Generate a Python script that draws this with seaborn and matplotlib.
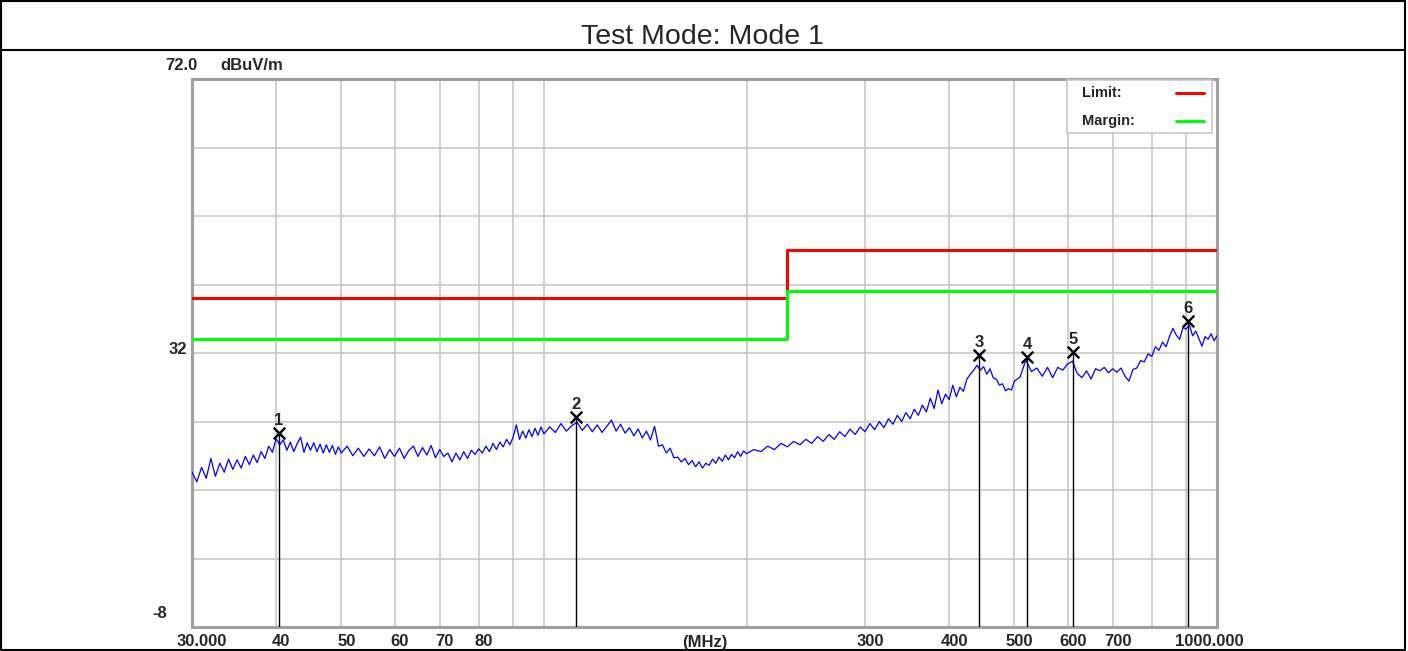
import numpy as np
import pandas as pd
import matplotlib
matplotlib.use('Agg')
import matplotlib.pyplot as plt
import seaborn as sns
from matplotlib.ticker import FixedLocator, NullFormatter
from matplotlib.transforms import ScaledTranslation, blended_transform_factory
from matplotlib.lines import Line2D
from matplotlib.patches import Rectangle

# %% data (MHz / dBuV/m)
FREQ_A = [30.0, 30.5, 31.0, 31.5, 32.0, 32.5, 33.0, 33.5, 34.0, 34.5, 35.0, 35.5, 36.0, 36.5,
          37.0, 37.5, 38.0, 38.5, 39.0, 39.5, 40.0, 40.5, 41.0, 41.5, 42.0, 42.5, 43.0, 43.5,
          44.0, 44.5, 45.0, 45.5, 46.0, 46.5, 47.0, 47.5, 48.0, 48.5, 49.0, 49.5, 50.0]
LEVEL_A = [14.6, 13.2, 15.3, 13.7, 16.6, 14.0, 15.9, 14.6, 16.5, 15.0, 16.4, 15.2, 16.9, 15.7,
           17.1, 16.0, 17.6, 16.6, 18.4, 17.5, 19.5, 18.6, 19.3, 17.8, 19.0, 17.6, 18.8, 19.7,
           17.5, 18.9, 17.8, 18.9, 17.6, 18.7, 17.4, 18.6, 17.5, 18.5, 17.2, 18.3, 17.4]

FREQ_B = [51, 52, 53, 54, 55, 56, 57, 58, 59, 60, 61, 62, 63, 64, 65, 66, 67, 68, 69, 70,
          71, 72, 73, 74, 75, 76, 77, 78, 79, 80, 81, 82, 83, 84, 85, 86, 87, 88, 89, 90,
          91, 92, 93, 94, 95, 96, 97, 98, 99, 100]
LEVEL_B = [18.4, 17.0, 18.1, 16.9, 18.0, 17.0, 18.3, 16.6, 17.9, 16.9, 18.1, 16.6, 17.8, 18.4,
           16.9, 18.2, 17.1, 18.5, 16.7, 17.9, 16.9, 17.4, 16.1, 17.4, 16.4, 17.6, 16.6, 17.8,
           17.2, 18.0, 17.4, 18.4, 17.6, 18.8, 17.9, 19.0, 18.3, 19.4, 18.6, 19.7, 21.5, 19.4,
           20.6, 19.6, 20.8, 19.8, 21.0, 20.0, 21.2, 20.2]

FREQ_C = [102, 104, 106, 108, 110, 112, 114, 116, 118, 120, 122, 124, 126, 128, 130, 132,
          134, 136, 138, 140, 142, 144, 146, 148, 150, 152, 154, 156, 158, 160, 162, 164,
          166, 168, 170, 172, 174, 176, 178, 180, 182, 184, 186, 188, 190, 192, 194, 196,
          198, 200]
LEVEL_C = [21.2, 20.4, 21.7, 20.6, 21.4, 21.9, 20.7, 21.6, 20.5, 21.5, 20.4, 21.3, 22.2, 20.6,
           21.6, 20.3, 21.1, 19.9, 20.9, 19.6, 20.6, 19.3, 21.3, 18.4, 18.6, 17.4, 18.1, 16.7,
           16.8, 16.1, 16.6, 15.7, 16.3, 15.4, 16.1, 15.2, 15.9, 15.6, 16.5, 15.9, 16.8, 16.2,
           17.1, 16.4, 17.2, 16.7, 17.6, 16.9, 17.7, 17.3]

FREQ_D = [205, 210, 215, 220, 225, 230, 235, 240, 245, 250, 255, 260, 265, 270, 275, 280,
          285, 290, 295, 300, 305, 310, 315, 320, 325, 330, 335, 340, 345, 350, 355, 360,
          365, 370, 375, 380, 385, 390, 395, 400, 405, 410, 415, 420, 425, 430, 435, 440,
          445, 450, 455, 460, 465, 470, 475, 480, 485, 490, 495, 500]
LEVEL_D = [17.9, 17.6, 18.4, 17.9, 18.8, 18.3, 19.1, 18.6, 19.4, 18.8, 19.8, 19.1, 20.1, 19.4,
           20.5, 19.8, 20.9, 20.1, 21.2, 20.5, 21.7, 20.8, 22.0, 21.1, 22.4, 21.6, 22.9, 22.0,
           23.3, 22.4, 23.8, 22.9, 24.4, 23.4, 25.4, 23.9, 26.6, 24.6, 26.0, 25.2, 27.3, 25.6,
           27.0, 26.4, 28.2, 28.9, 29.5, 30.2, 29.5, 30.0, 28.9, 29.7, 28.4, 28.2, 27.3, 27.5,
           26.5, 26.8, 26.6, 27.9]

FREQ_E = [510, 520, 530, 540, 550, 560, 570, 580, 590, 600, 610, 620, 630, 640, 650, 660,
          670, 680, 690, 700, 710, 720, 730, 740, 750, 760, 770, 780, 790, 800, 810, 820,
          830, 840, 850, 860, 870, 880, 890, 900, 910, 920, 930, 940, 950, 960, 970, 980,
          990, 1000]
LEVEL_E = [28.5, 31.0, 29.3, 29.8, 28.6, 29.9, 28.4, 29.9, 29.5, 30.4, 30.8, 29.0, 28.4, 29.4,
           28.2, 29.7, 29.4, 29.9, 29.1, 29.7, 29.2, 29.8, 28.6, 27.9, 29.6, 29.8, 30.9, 30.7,
           31.9, 31.5, 32.9, 32.4, 33.6, 32.9, 34.4, 35.6, 34.6, 34.0, 35.7, 35.5, 36.1, 34.5,
           35.2, 34.1, 33.0, 34.4, 34.0, 34.8, 33.8, 34.5]

LIMIT_FREQ = [30, 230, 230, 1000]
LIMIT_LEVEL = [40, 40, 47, 47]
MARGIN_LEVEL = [34, 34, 41, 41]

MARKER_ID = ['1', '2', '3', '4', '5', '6']
MARKER_FREQ = [40.4, 111.6, 443, 522, 611, 906]
MARKER_LEVEL = [20.3, 22.7, 31.7, 31.4, 32.1, 36.7]

X_GRID = [40, 50, 60, 70, 80, 90, 100, 200, 300, 400, 500, 600, 700, 800, 900]
Y_GRID = [2, 12, 22, 32, 42, 52, 62]
XTICK_VALUES = [30, 40, 50, 60, 70, 80, 300, 400, 500, 600, 700, 1000]
XTICK_LABELS = ['30.000', '40', '50', '60', '70', '80', '300', '400', '500', '600', '700', '1000.000']

TITLE = 'Test Mode: Mode 1'

# %% styling
sns.set_style('white')
plt.rcParams['font.family'] = ['Liberation Sans', 'DejaVu Sans']

W, H = 1408, 651
fig = plt.figure(figsize=(W / 100, H / 100), dpi=100)
ax = fig.add_axes([192 / W, 1 - 627 / H, (1217 - 192) / W, (627 - 79) / H])

trace = pd.DataFrame({'freq': FREQ_A + FREQ_B + FREQ_C + FREQ_D + FREQ_E,
                      'level': LEVEL_A + LEVEL_B + LEVEL_C + LEVEL_D + LEVEL_E})
limits = pd.DataFrame({'freq': LIMIT_FREQ, 'limit': LIMIT_LEVEL, 'margin': MARGIN_LEVEL})
markers = pd.DataFrame({'freq': MARKER_FREQ, 'level': MARKER_LEVEL, 'id': MARKER_ID})

sns.lineplot(data=trace, x='freq', y='level', color='#0000FF', lw=0.9,
             estimator=None, sort=False, ax=ax, zorder=3)
sns.lineplot(data=limits, x='freq', y='limit', color='#FF0000', lw=2.2,
             estimator=None, sort=False, ax=ax, zorder=4)
sns.lineplot(data=limits, x='freq', y='margin', color='#00FF00', lw=2.2,
             estimator=None, sort=False, ax=ax, zorder=4)

ax.vlines(markers['freq'], -8, markers['level'], colors='black', lw=1.0, zorder=5)
sns.scatterplot(data=markers, x='freq', y='level', marker='x', s=70, color='black',
                linewidth=1.7, ax=ax, zorder=6)
for _, m in markers.iterrows():
    ax.annotate(m['id'], (m['freq'], m['level']), xytext=(0, 9), textcoords='offset points',
                ha='center', va='center', fontsize=12, fontweight='bold', zorder=7)

ax.set_xscale('log')
ax.set_xlim(30, 1000)
ax.set_ylim(-8, 72)
ax.set_xlabel('')
ax.set_ylabel('')

ax.xaxis.set_major_locator(FixedLocator(X_GRID))
ax.xaxis.set_minor_locator(FixedLocator([]))
ax.xaxis.set_major_formatter(NullFormatter())
ax.xaxis.set_minor_formatter(NullFormatter())
ax.yaxis.set_major_locator(FixedLocator(Y_GRID))
ax.yaxis.set_major_formatter(NullFormatter())
ax.tick_params(which='both', length=0)
ax.grid(True, which='major', color='#C8C8C8', lw=1.2)
ax.set_axisbelow(True)
for s in ax.spines.values():
    s.set_color('#A0A0A0')
    s.set_linewidth(2.2)

# x labels (drawn as text so they can sit like the original)
bx = blended_transform_factory(ax.transData, ax.transAxes)
for i, (v, lab) in enumerate(zip(XTICK_VALUES, XTICK_LABELS)):
    dx = 10 if i == 0 else (-8 if i == len(XTICK_VALUES) - 1 else 5)
    ax.text(v, 0, lab, transform=bx + ScaledTranslation(dx / 100, -15 / 100, fig.dpi_scale_trans),
            ha='center', va='center', fontsize=12, fontweight='bold')
ax.text(0.5, 0, '(MHz)', transform=ax.transAxes + ScaledTranslation(0, -15 / 100, fig.dpi_scale_trans),
        ha='center', va='center', fontsize=12, fontweight='bold')

# y labels
by = blended_transform_factory(ax.transAxes, ax.transData)
ax.text(0, 72, '72.0', transform=by + ScaledTranslation(5 / 100, 14 / 100, fig.dpi_scale_trans),
        ha='right', va='center', fontsize=12, fontweight='bold')
ax.text(0, 72, 'dBuV/m', transform=by + ScaledTranslation(28 / 100, 14 / 100, fig.dpi_scale_trans),
        ha='left', va='center', fontsize=12, fontweight='bold')
ax.text(0, 32, '32', transform=by + ScaledTranslation(-5 / 100, 4 / 100, fig.dpi_scale_trans),
        ha='right', va='center', fontsize=12, fontweight='bold')
ax.text(0, -8, '-8', transform=by + ScaledTranslation(-25 / 100, 14 / 100, fig.dpi_scale_trans),
        ha='right', va='center', fontsize=12, fontweight='bold')

# legend box (label left, line right)
def apx(x, y):
    return ((x - 192) / 1025, (627 - y) / 548)

ax.add_patch(Rectangle(apx(1067, 133), 145 / 1025, 53 / 548, transform=ax.transAxes,
                       facecolor='white', edgecolor='#C8C8C8', lw=1.2, zorder=8))
for label, col, y in [('Limit:', '#FF0000', 93), ('Margin:', '#00FF00', 121)]:
    ax.text(*apx(1082, y), label, transform=ax.transAxes, ha='left', va='center',
            fontsize=10.5, fontweight='bold', zorder=9)
    x0, yy = apx(1176, y)
    x1, _ = apx(1204, y)
    ax.add_line(Line2D([x0, x1], [yy, yy], transform=ax.transAxes, color=col, lw=2.2, zorder=9))

# page frame and title row
fig.add_artist(Rectangle((1 / W, 1 / H), 1404 / W, 649 / H, transform=fig.transFigure,
                         fill=False, ec='black', lw=1.5))
fig.add_artist(Line2D([0, 1405 / W], [1 - 50 / H] * 2, transform=fig.transFigure, color='black', lw=1.5))
fig.text(702.5 / W, 1 - 37 / H, TITLE, ha='center', va='center', fontsize=20.5)

fig.savefig('out.png', dpi=100)
